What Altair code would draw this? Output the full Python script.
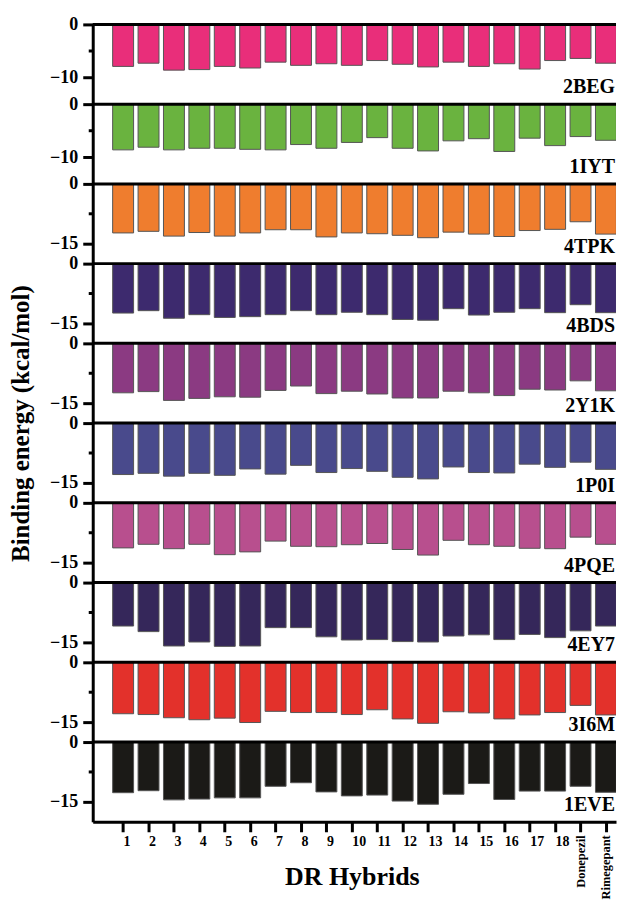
import altair as alt
import pandas as pd

categories = [str(i) for i in range(1, 19)] + ["Donepezil", "Rimegepant"]
positions = list(range(1, 21))
targets = ["2BEG", "1IYT", "4TPK", "4BDS", "2Y1K", "1P0I", "4PQE", "4EY7", "3I6M", "1EVE"]
colors = ["#E92E7A", "#6AB33F", "#EF7D2E", "#3D2A6E", "#8B3A82",
          "#494A8C", "#B84F8E", "#35275A", "#E3312B", "#1B1A17"]

v_2BEG = [-7.9, -7.3, -8.6, -8.5, -7.9, -8.2, -7.1, -7.7, -7.4, -7.7,
          -6.8, -7.5, -8.0, -7.1, -7.9, -7.4, -8.4, -6.8, -6.4, -7.3]
v_1IYT = [-8.6, -8.1, -8.6, -8.3, -8.3, -8.5, -8.6, -7.6, -8.3, -7.2,
          -6.3, -8.3, -8.8, -6.9, -6.5, -8.9, -6.4, -7.8, -6.1, -6.8]
v_4TPK = [-12.3, -11.9, -13.1, -12.2, -13.1, -12.3, -11.5, -11.5, -13.3, -12.3,
          -12.5, -12.9, -13.5, -12.1, -12.6, -13.2, -11.7, -11.4, -9.5, -12.6]
v_4BDS = [-12.4, -11.8, -13.7, -12.8, -13.5, -13.3, -12.8, -11.8, -12.8, -12.2,
          -12.8, -14.0, -14.2, -11.3, -12.9, -12.2, -11.3, -12.3, -10.3, -12.3]
v_2Y1K = [-12.4, -12.1, -14.3, -13.8, -13.4, -13.5, -11.8, -10.7, -12.6, -12.0,
          -12.7, -13.7, -13.7, -12.0, -12.4, -13.1, -11.5, -11.7, -9.4, -11.9]
v_1P0I = [-12.9, -12.6, -13.3, -12.6, -13.1, -11.5, -12.8, -10.6, -12.4, -11.4,
          -12.1, -13.6, -14.0, -11.0, -12.4, -12.5, -10.3, -11.1, -9.8, -11.6]
v_4PQE = [-11.3, -10.4, -11.5, -10.4, -13.0, -12.3, -9.6, -10.9, -11.0, -10.5,
          -10.2, -11.7, -13.1, -9.4, -10.5, -10.9, -11.4, -11.5, -8.6, -10.4]
v_4EY7 = [-10.9, -12.3, -15.9, -14.9, -16.0, -15.9, -11.3, -11.3, -13.6, -14.4,
          -14.3, -14.8, -14.9, -13.4, -13.1, -14.3, -13.0, -13.8, -12.1, -10.9]
v_3I6M = [-12.9, -13.1, -13.9, -14.4, -14.0, -15.1, -12.3, -12.6, -12.6, -13.1,
          -11.9, -14.2, -15.3, -12.4, -12.7, -14.2, -13.2, -12.6, -10.8, -13.2]
v_1EVE = [-12.7, -12.2, -14.5, -14.3, -14.0, -14.0, -11.1, -10.2, -12.5, -13.5,
          -13.3, -14.8, -15.6, -13.1, -10.4, -14.4, -12.3, -12.3, -11.1, -12.6]

series = [v_2BEG, v_1IYT, v_4TPK, v_4BDS, v_2Y1K, v_1P0I, v_4PQE, v_4EY7, v_3I6M, v_1EVE]
y_min = [-15, -15, -20, -20, -20, -20, -20, -20, -20, -20]
major_tick = [-10, -10, -15, -15, -15, -15, -15, -15, -15, -15]
minor_tick = [-5, -5, -7.5, -7.5, -7.5, -7.5, -7.5, -7.5, -7.5, -7.5]

FONT = "Liberation Serif"
W, H = 525, 80
X_DOMAIN = [0, 20.2]

label_expr = ("datum.value == 19 ? 'Donepezil' : "
              "(datum.value == 20 ? 'Rimegepant' : datum.label)")

panels = []
n = len(targets)
for i in range(n):
    df = pd.DataFrame({"pos": positions, "cat": categories, "val": series[i]})
    last = i == n - 1
    if last:
        x_axis = alt.Axis(
            values=positions, labelExpr=label_expr,
            labelAngle={"expr": "datum.value > 18 ? -90 : 0"},
            labelFontSize={"condition": {"test": "datum.value > 18", "value": 12.5}, "value": 14},
            labelOverlap=False, labelFont=FONT,
            labelFontWeight="bold", labelColor="black", labelPadding=3,
            tickSize=10, tickWidth=3, tickColor="black",
            domainWidth=3, domainColor="black", grid=False,
            title="DR Hybrids", titleFont=FONT, titleFontSize=26,
            titleFontWeight="bold", titleColor="black",
            titleX=260, titleY=63, titleBaseline="alphabetic",
        )
    else:
        x_axis = None
    y_kwargs = dict(
        values=[0, major_tick[i]], grid=False,
        labelFont=FONT, labelFontSize=18, labelFontWeight="bold",
        labelColor="black", labelPadding=5,
        tickSize=10, tickWidth=3, tickColor="black",
        domainWidth=3, domainColor="black",
    )
    if i == 4:
        y_kwargs.update(
            title="Binding energy (kcal/mol)", titleFont=FONT, titleFontSize=25,
            titleFontWeight="bold", titleColor="black", titleX=-59, titleY=80,
        )
    else:
        y_kwargs.update(title=None)
    yscale = alt.Scale(domain=[y_min[i], 0], nice=False, zero=False)
    xscale = alt.Scale(domain=X_DOMAIN, nice=False, zero=False)

    bars = alt.Chart(df).mark_bar(
        color=colors[i], stroke="#555555", strokeWidth=1, width=21, clip=True
    ).encode(
        x=alt.X("pos:Q", scale=xscale, axis=x_axis),
        y=alt.Y("val:Q", scale=yscale, axis=alt.Axis(**y_kwargs)),
    )
    zero_line = alt.Chart(pd.DataFrame({"z": [0]})).mark_rule(
        color="black", strokeWidth=3
    ).encode(y=alt.Y("z:Q", scale=yscale))
    minor = alt.Chart(pd.DataFrame({"m": [minor_tick[i]]})).mark_rule(
        color="black", strokeWidth=3
    ).encode(y=alt.Y("m:Q", scale=yscale), x=alt.value(-4), x2=alt.value(0))
    label = alt.Chart(pd.DataFrame({"t": [targets[i]]})).mark_text(
        align="right", baseline="alphabetic", font=FONT, fontSize=20,
        fontWeight="bold", color="black"
    ).encode(text="t:N", x=alt.value(W - 1), y=alt.value(69))
    panels.append(alt.layer(bars, zero_line, minor, label).properties(width=W, height=H))

chart = alt.vconcat(*panels, spacing=0, bounds="flush").properties(
    padding={"left": 0, "top": 6, "right": 0, "bottom": 0}
).configure_view(stroke=None).configure_concat(spacing=0)

chart.save("out.html", embed_options={"renderer": "svg", "actions": False})
